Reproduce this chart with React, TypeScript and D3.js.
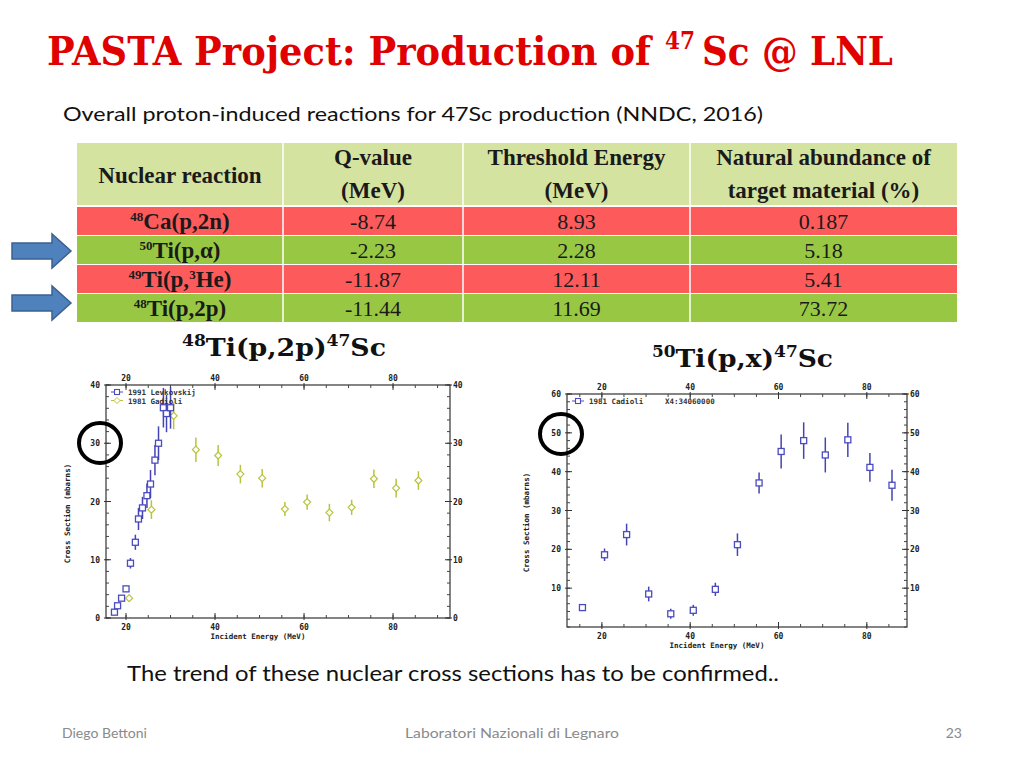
import React, { useLayoutEffect, useRef, useState } from "react";
import * as d3 from "d3";

// ---------- Data ----------
const tableHeaders = [
  ["Nuclear reaction"],
  ["Q-value", "(MeV)"],
  ["Threshold Energy", "(MeV)"],
  ["Natural abundance of", "target material (%)"],
];
const reactionMass = ["48", "50", "49", "48"];
const reactionBody = ["Ca(p,2n)", "Ti(p,\u03b1)", "Ti(p,", "Ti(p,2p)"];
const qValues = ["-8.74", "-2.23", "-11.87", "-11.44"];
const thresholds = ["8.93", "2.28", "12.11", "11.69"];
const abundances = ["0.187", "5.18", "5.41", "73.72"];
const rowHighlight = [false, true, false, true];

// Left plot: 48Ti(p,2p)47Sc
const levkovskijE = [17.4, 18.1, 19.0, 20.0, 21.0, 22.1, 22.8, 23.7, 24.7, 25.5, 26.5, 27.3, 28.4, 29.1, 30.0];
const levkovskijXS = [1.0, 2.1, 3.4, 5.0, 9.4, 13.0, 17.0, 18.9, 21.0, 23.0, 27.1, 30.0, 36.1, 35.1, 36.1];
const levkovskijErr = [0.3, 0.3, 0.4, 0.5, 0.9, 1.3, 1.9, 1.9, 2.1, 2.4, 2.6, 2.9, 3.4, 3.2, 3.6];

const gadioliLeftE = [20.7, 25.7, 30.7, 35.7, 40.7, 45.7, 50.6, 55.7, 60.7, 65.7, 70.7, 75.7, 80.7, 85.7];
const gadioliLeftXS = [3.4, 18.6, 34.7, 28.9, 27.9, 24.7, 24.0, 18.7, 19.9, 18.1, 19.0, 23.9, 22.3, 23.6];
const gadioliLeftErr = [0.3, 1.6, 2.3, 2.1, 1.8, 1.6, 1.6, 1.2, 1.3, 1.5, 1.3, 1.6, 1.6, 1.6];

// Right plot: 50Ti(p,x)47Sc
const gadioliRightE = [15.6, 20.6, 25.6, 30.6, 35.6, 40.7, 45.7, 50.7, 55.6, 60.6, 65.7, 70.6, 75.7, 80.7, 85.7];
const gadioliRightXS = [5.0, 18.6, 23.8, 8.5, 3.4, 4.3, 9.7, 21.2, 37.1, 45.2, 48.0, 44.3, 48.2, 41.1, 36.5];
const gadioliRightErr = [0.4, 1.6, 2.8, 1.9, 1.3, 1.4, 1.7, 2.9, 2.7, 4.4, 4.7, 4.5, 4.4, 3.7, 4.0];

const xMajorTicks = [20, 40, 60, 80];
const leftYTicks = [0, 10, 20, 30, 40];
const rightYTicks = [10, 20, 30, 40, 50, 60];

// ---------- Styles ----------
const BLUE = "#4b4bc0";
const BLUE_ERR = "#4444b4";
const YELLOW = "#b9c43c";
const RED_ROW = "#fd5b5b";
const GREEN_ROW = "#98c843";
const HEADER = "#d5e3a0";
const MONO = "'DejaVu Sans Mono', monospace";
const BODY = "Lato, 'Open Sans', sans-serif";
const TITLE_FONT = "'DejaVu Serif', serif";

// Text that is horizontally scaled (via transform) to an exact width
function FitText(props: { x: number; y: number; width: number; fontSize: number; fill: string; fontFamily: string; fontWeight?: string; children: string }) {
  const ref = useRef<SVGTextElement>(null);
  const [sx, setSx] = useState(1);
  useLayoutEffect(() => {
    if (ref.current) {
      const w = ref.current.getComputedTextLength();
      if (w > 0) setSx(props.width / w);
    }
  }, [props.width, props.children]);
  return (
    <text
      ref={ref}
      transform={`translate(${props.x},${props.y}) scale(${sx},1)`}
      fontSize={props.fontSize}
      fill={props.fill}
      fontFamily={props.fontFamily}
      fontWeight={props.fontWeight}
    >
      {props.children}
    </text>
  );
}

type Series = { e: number[]; xs: number[]; err: number[]; color: string; lineColor: string; marker: "square" | "diamond" };

function Plot(props: {
  id: string;
  left: number; right: number; top: number; bottom: number;
  xDomain: [number, number]; yDomain: [number, number];
  yTicks: number[]; yMinorStep: number;
  series: Series[];
  legend: { marker: "square" | "diamond"; color: string; text: string; extra?: string }[];
  yLabelX: number;
}) {
  const { id, left, right, top, bottom, xDomain, yDomain, yTicks, yMinorStep, series, legend, yLabelX } = props;
  const x = d3.scaleLinear().domain(xDomain).range([left, right]);
  const y = d3.scaleLinear().domain(yDomain).range([bottom, top]);
  const xMinor = d3.range(Math.ceil(xDomain[0] / 5) * 5, xDomain[1], 5);
  const yMinor = d3.range(yDomain[0], yDomain[1] + 0.001, yMinorStep);
  const fs = 8;
  return (
    <g>
      <defs>
        <clipPath id={id}>
          <rect x={left} y={top} width={right - left} height={bottom - top} />
        </clipPath>
      </defs>
      <rect x={left} y={top} width={right - left} height={bottom - top} fill="white" stroke="#333" strokeWidth={1.2} />
      {xMinor.map((v) => (
        <g key={"xm" + v} stroke="#444" strokeWidth={1}>
          <line x1={x(v)} x2={x(v)} y1={bottom} y2={bottom - 3} />
          <line x1={x(v)} x2={x(v)} y1={top} y2={top + 3} />
        </g>
      ))}
      {xMajorTicks.map((v) => (
        <g key={"xM" + v}>
          <line x1={x(v)} x2={x(v)} y1={bottom + 2} y2={bottom - 5} stroke="#333" />
          <line x1={x(v)} x2={x(v)} y1={top - 2} y2={top + 5} stroke="#333" />
          <text x={x(v)} y={bottom + 12} fontSize={fs} fontFamily={MONO} fontWeight="bold" textAnchor="middle" fill="#222">{v}</text>
          <text x={x(v)} y={top - 4} fontSize={fs} fontFamily={MONO} fontWeight="bold" textAnchor="middle" fill="#222">{v}</text>
        </g>
      ))}
      {yMinor.map((v) => (
        <g key={"ym" + v} stroke="#444" strokeWidth={1}>
          <line x1={left} x2={left + 3} y1={y(v)} y2={y(v)} />
          <line x1={right} x2={right - 3} y1={y(v)} y2={y(v)} />
        </g>
      ))}
      {yTicks.map((v) => (
        <g key={"yM" + v}>
          <line x1={left - 2} x2={left + 5} y1={y(v)} y2={y(v)} stroke="#333" />
          <line x1={right + 2} x2={right - 5} y1={y(v)} y2={y(v)} stroke="#333" />
          <text x={left - 6} y={y(v) + 3} fontSize={fs} fontFamily={MONO} fontWeight="bold" textAnchor="end" fill="#222">{v}</text>
          <text x={right + 3} y={y(v) + 3} fontSize={fs} fontFamily={MONO} fontWeight="bold" textAnchor="start" fill="#222">{v}</text>
        </g>
      ))}
      <text x={(left + right) / 2 - 20} y={bottom + 21} fontSize={7.5} fontFamily={MONO} fontWeight="bold" textAnchor="middle" fill="#222">Incident Energy (MeV)</text>
      <text transform={`translate(${yLabelX},${(top + bottom) / 2 + 12}) rotate(-90)`} fontSize={7.5} fontFamily={MONO} fontWeight="bold" textAnchor="middle" fill="#222">Cross Section (mbarns)</text>
      <g clipPath={`url(#${id})`}>
        {series.map((s, si) =>
          s.e.map((e, i) => {
            const cx = x(e), cy = y(s.xs[i]);
            const y1 = y(s.xs[i] + s.err[i]), y2 = y(s.xs[i] - s.err[i]);
            return (
              <g key={si + "-" + i}>
                <line x1={cx} x2={cx} y1={y1} y2={y2} stroke={s.lineColor} strokeWidth={1.5} />
                {s.marker === "square" ? (
                  <rect x={cx - 3} y={cy - 3} width={6} height={6} fill="white" stroke={s.color} strokeWidth={1.3} />
                ) : (
                  <path d={`M${cx},${cy - 3.5}L${cx + 3.5},${cy}L${cx},${cy + 3.5}L${cx - 3.5},${cy}Z`} fill="white" stroke={s.color} strokeWidth={1.2} />
                )}
              </g>
            );
          })
        )}
      </g>
      {legend.map((l, i) => {
        const ly = top + 7 + i * 8.5;
        const lx = left + 7;
        return (
          <g key={"lg" + i}>
            <line x1={lx - 2} x2={lx + 10} y1={ly} y2={ly} stroke={l.color} strokeWidth={1} />
            {l.marker === "square" ? (
              <rect x={lx + 1.5} y={ly - 2.5} width={5} height={5} fill="white" stroke={l.color} strokeWidth={1.1} />
            ) : (
              <path d={`M${lx + 4},${ly - 3}L${lx + 7},${ly}L${lx + 4},${ly + 3}L${lx + 1},${ly}Z`} fill="white" stroke={l.color} strokeWidth={1} />
            )}
            <text x={lx + 15} y={ly + 3} fontSize={7.5} fontFamily={MONO} fontWeight="bold" fill="#333">{l.text}</text>
            {l.extra && (
              <text x={lx + 91} y={ly + 3} fontSize={7.5} fontFamily={MONO} fontWeight="bold" fill="#333">{l.extra}</text>
            )}
          </g>
        );
      })}
    </g>
  );
}

function Arrow({ cy }: { cy: number }) {
  const x0 = 12, xb = 52, xh = 71;
  const bh = 8, hh = 17;
  const d = `M${x0},${cy - bh}L${xb},${cy - bh}L${xb},${cy - hh}L${xh},${cy}L${xb},${cy + hh}L${xb},${cy + bh}L${x0},${cy + bh}Z`;
  return <path d={d} fill="#4f81bd" stroke="#3a6291" strokeWidth={1.5} />;
}

export default function App() {
  const colX = [77, 283, 463, 690, 957];
  const headerTop = 143, headerBottom = 205;
  const rowTops = [207, 236, 265, 294];
  const rowH = 28;
  const tableFont = "'Liberation Serif', 'Times New Roman', serif";
  const colCenter = (i: number) => (colX[i] + colX[i + 1]) / 2;

  return (
    <svg width={1024} height={768} style={{ position: "absolute", left: 0, top: 0, background: "white" }}>
      <rect width={1024} height={768} fill="white" />
      {/* Title */}
      <FitText x={47} y={65} width={604} fontSize={40} fill="#e00000" fontFamily={TITLE_FONT} fontWeight="bold">PASTA Project: Production of</FitText>
      <FitText x={665} y={49} width={30} fontSize={24} fill="#e00000" fontFamily={TITLE_FONT} fontWeight="bold">47</FitText>
      <FitText x={702} y={65} width={191} fontSize={40} fill="#e00000" fontFamily={TITLE_FONT} fontWeight="bold">Sc @ LNL</FitText>
      <text x={63} y={121} fontFamily={BODY} fontSize={20} fill="#111" textLength={700} lengthAdjust="spacingAndGlyphs">
        Overall proton-induced reactions for 47Sc production (NNDC, 2016)
      </text>

      {/* Table */}
      <rect x={colX[0]} y={headerTop} width={colX[4] - colX[0]} height={headerBottom - headerTop} fill={HEADER} />
      {rowTops.map((t, i) => (
        <rect key={"r" + i} x={colX[0]} y={t} width={colX[4] - colX[0]} height={rowH} fill={rowHighlight[i] ? GREEN_ROW : RED_ROW} />
      ))}
      {colX.slice(1, 4).map((cx, i) => (
        <line key={"c" + i} x1={cx} x2={cx} y1={headerTop} y2={rowTops[3] + rowH} stroke="white" strokeWidth={1.5} />
      ))}
      {tableHeaders.map((h, i) =>
        h.length === 1 ? (
          <text key={"h" + i} x={colCenter(i)} y={183} textAnchor="middle" fontFamily={tableFont} fontWeight="bold" fontSize={23} fill="#1a1a1a">{h[0]}</text>
        ) : (
          <g key={"h" + i}>
            <text x={colCenter(i)} y={165} textAnchor="middle" fontFamily={tableFont} fontWeight="bold" fontSize={23} fill="#1a1a1a">{h[0]}</text>
            <text x={colCenter(i)} y={198} textAnchor="middle" fontFamily={tableFont} fontWeight="bold" fontSize={23} fill="#1a1a1a">{h[1]}</text>
          </g>
        )
      )}
      {rowTops.map((t, i) => {
        const by = t + 22;
        return (
          <g key={"row" + i} fontFamily={tableFont} fill="#1a1a1a">
            <text x={colCenter(0)} y={by} textAnchor="middle" fontWeight="bold" fontSize={23}>
              <tspan fontSize={13} dy={-8}>{reactionMass[i]}</tspan>
              <tspan dy={8}>{reactionBody[i]}</tspan>
              {i === 2 && (
                <>
                  <tspan fontSize={13} dy={-8}>3</tspan>
                  <tspan dy={8}>He)</tspan>
                </>
              )}
            </text>
            <text x={colCenter(1)} y={by} textAnchor="middle" fontSize={22}>{qValues[i]}</text>
            <text x={colCenter(2)} y={by} textAnchor="middle" fontSize={22}>{thresholds[i]}</text>
            <text x={colCenter(3)} y={by} textAnchor="middle" fontSize={22}>{abundances[i]}</text>
          </g>
        );
      })}

      {/* Arrows */}
      <Arrow cy={251} />
      <Arrow cy={303} />

      {/* Plot titles */}
      <text x={182} y={356} fontFamily={TITLE_FONT} fontWeight="bold" fontSize={25} fill="#111" textLength={204} lengthAdjust="spacingAndGlyphs">
        <tspan fontSize={16} dy={-10}>48</tspan><tspan dy={10}>Ti(p,2p)</tspan><tspan fontSize={16} dy={-10}>47</tspan><tspan dy={10}>Sc</tspan>
      </text>
      <text x={652} y={367} fontFamily={TITLE_FONT} fontWeight="bold" fontSize={25} fill="#111" textLength={181} lengthAdjust="spacingAndGlyphs">
        <tspan fontSize={16} dy={-10}>50</tspan><tspan dy={10}>Ti(p,x)</tspan><tspan fontSize={16} dy={-10}>47</tspan><tspan dy={10}>Sc</tspan>
      </text>

      {/* Left plot */}
      <Plot
        id="clipL"
        left={106} right={450} top={385} bottom={618}
        xDomain={[15.5, 92.8]} yDomain={[0, 40]}
        yTicks={leftYTicks} yMinorStep={2}
        yLabelX={70}
        series={[
          { e: gadioliLeftE, xs: gadioliLeftXS, err: gadioliLeftErr, color: YELLOW, lineColor: YELLOW, marker: "diamond" },
          { e: levkovskijE, xs: levkovskijXS, err: levkovskijErr, color: BLUE, lineColor: BLUE_ERR, marker: "square" },
        ]}
        legend={[
          { marker: "square", color: BLUE, text: "1991 Levkovskij" },
          { marker: "diamond", color: YELLOW, text: "1981 Gadioli" },
        ]}
      />

      {/* Right plot */}
      <Plot
        id="clipR"
        left={567} right={907} top={394} bottom={627}
        xDomain={[12.1, 89.1]} yDomain={[0, 60]}
        yTicks={rightYTicks} yMinorStep={2}
        yLabelX={529}
        series={[
          { e: gadioliRightE, xs: gadioliRightXS, err: gadioliRightErr, color: BLUE, lineColor: BLUE_ERR, marker: "square" },
        ]}
        legend={[
          { marker: "square", color: BLUE, text: "1981 Cadioli", extra: "X4:34060000" },
        ]}
      />

      {/* Circles */}
      <ellipse cx={100} cy={443} rx={21} ry={20} fill="none" stroke="#000" strokeWidth={4} />
      <ellipse cx={561} cy={434} rx={21} ry={20} fill="none" stroke="#000" strokeWidth={4} />

      {/* Bottom sentence */}
      <text x={127} y={681} fontFamily={BODY} fontSize={22} fill="#111" textLength={652} lengthAdjust="spacingAndGlyphs">
        The trend of these nuclear cross sections has to be confirmed..
      </text>

      {/* Footer */}
      <text x={62} y={738} fontFamily={BODY} fontSize={14} fill="#8a8a8a">Diego Bettoni</text>
      <text x={512} y={738} textAnchor="middle" fontFamily={BODY} fontSize={14} fill="#8a8a8a" textLength={214} lengthAdjust="spacingAndGlyphs">Laboratori Nazionali di Legnaro</text>
      <text x={962} y={738} textAnchor="end" fontFamily={BODY} fontSize={14} fill="#8a8a8a">23</text>
    </svg>
  );
}
